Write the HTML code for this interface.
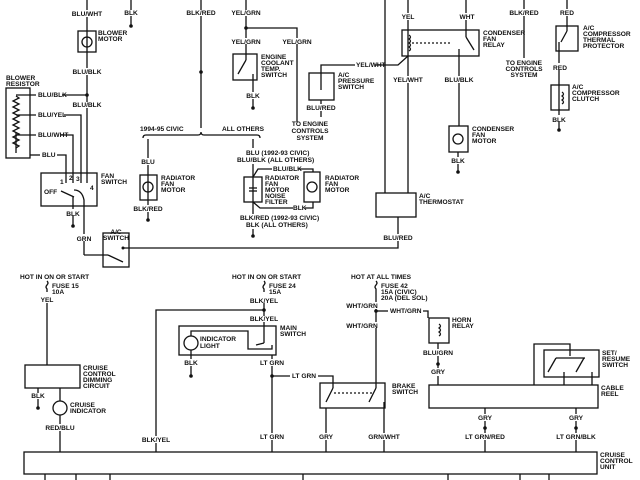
<!DOCTYPE html>
<html><head><meta charset="utf-8"><style>
html,body{margin:0;padding:0;background:#fff}
svg{display:block}
text{font-family:"Liberation Sans",sans-serif;font-size:6.6px;fill:#111;font-weight:bold}
.m{text-anchor:middle}
</style></head><body>
<svg width="640" height="480" viewBox="0 0 640 480" xmlns="http://www.w3.org/2000/svg">
<g stroke="#111" stroke-width="1.3" fill="none">
<!-- top left -->
<line x1="87" y1="0" x2="87" y2="10"/><line x1="87" y1="17" x2="87" y2="68"/><line x1="87" y1="75" x2="87" y2="102"/><line x1="87" y1="108" x2="87" y2="183"/>
<rect x="78" y="31" width="18" height="21"/><circle cx="87" cy="42" r="5"/>
<line x1="131" y1="0" x2="131" y2="10"/><line x1="131" y1="16" x2="131" y2="26"/>
<line x1="201" y1="0" x2="201" y2="10"/><line x1="201" y1="16" x2="201" y2="128"/>
<line x1="246" y1="0" x2="246" y2="10"/><line x1="246" y1="16" x2="246" y2="38"/><line x1="246" y1="44" x2="246" y2="60"/>
<polyline points="246,28 297,28 297,38"/><line x1="297" y1="44" x2="297" y2="122"/>
<rect x="233" y="54" width="24" height="26"/><line x1="246" y1="60" x2="238" y2="74"/><line x1="253" y1="74" x2="253" y2="92"/><line x1="253" y1="99" x2="253" y2="108"/>
<!-- blower resistor -->
<rect x="6" y="88" width="24" height="70"/>
<path d="M16 96 l3 2 -6 3 6 3 -6 3 6 3 -6 3 6 3 -6 3 6 3 -6 3 6 3 -6 3 6 3 -6 3 6 3 -6 3 6 3 -3 2"/>
<path d="M16 133 v20"/>
<line x1="16" y1="95" x2="36" y2="95"/><line x1="62" y1="95" x2="87" y2="95"/>
<line x1="16" y1="115" x2="36" y2="115"/><polyline points="64,115 81,115 81,183"/>
<line x1="16" y1="135" x2="36" y2="135"/><polyline points="61,135 73,135 73,183"/>
<polyline points="30,155 40,155"/><polyline points="57,155 66,155 66,183"/>
<rect x="41" y="173" width="56" height="33"/>
<line x1="61" y1="191" x2="74" y2="197"/><path d="M74 190 q8 0 10 10 v6"/>
<line x1="73" y1="197" x2="73" y2="209"/><line x1="73" y1="216" x2="73" y2="226"/>
<line x1="84" y1="206" x2="84" y2="234"/><line x1="84" y1="241" x2="84" y2="255"/>
<polyline points="84,255 108,255"/>
<rect x="103" y="233" width="26" height="34"/><line x1="108" y1="255" x2="123" y2="262"/>
<polyline points="123,248 398,248 398,241"/><line x1="398" y1="234" x2="398" y2="217"/>
<!-- brace -->
<path d="M143 138 q0 -3 3 -3 h52 q3 0 3 -3 q0 3 3 3 h53 q3 0 3 3"/>
<line x1="148" y1="139" x2="148" y2="158"/><line x1="148" y1="165" x2="148" y2="205"/><line x1="148" y1="212" x2="148" y2="220"/>
<rect x="140" y="175" width="17" height="25"/><circle cx="148" cy="187" r="5"/>
<line x1="253" y1="139" x2="253" y2="148"/><line x1="253" y1="164" x2="253" y2="214"/><line x1="253" y1="229" x2="253" y2="236"/>
<rect x="244" y="177" width="18" height="25"/><line x1="249" y1="188" x2="257" y2="188"/><line x1="249" y1="191" x2="257" y2="191"/>
<polyline points="253,177 258,169 272,169"/><polyline points="298,169 313,169 313,172"/>
<rect x="304" y="172" width="16" height="30"/><circle cx="312" cy="187" r="5"/>
<polyline points="253,202 260,208 293,208"/><polyline points="305,208 313,208 313,202"/>
<!-- A/C pressure -->
<rect x="309" y="73" width="25" height="27"/><polyline points="321,90 321,65 355,65"/><polyline points="375,65 398,65 408,56"/><line x1="321" y1="100" x2="321" y2="104"/><line x1="321" y1="111" x2="321" y2="117"/>
<line x1="385" y1="0" x2="385" y2="193"/><line x1="408" y1="0" x2="408" y2="13"/><line x1="408" y1="20" x2="408" y2="76"/><line x1="408" y1="83" x2="408" y2="193"/>
<rect x="376" y="193" width="40" height="24"/>
<!-- relay -->
<rect x="402" y="30" width="77" height="26"/>
<path d="M409 35 q3 2 0 4 q3 2 0 4 q3 2 0 4 q3 2 0 4"/>
<line x1="412" y1="43" x2="452" y2="43" stroke-dasharray="2,2"/>
<line x1="466" y1="0" x2="466" y2="13"/><line x1="466" y1="20" x2="466" y2="37"/><line x1="466" y1="37" x2="474" y2="50"/>
<line x1="459" y1="49" x2="459" y2="76"/><line x1="459" y1="83" x2="459" y2="126"/>
<rect x="449" y="126" width="19" height="26"/><circle cx="458" cy="139" r="5"/><line x1="458" y1="152" x2="458" y2="157"/><line x1="458" y1="164" x2="458" y2="172"/>
<line x1="524" y1="0" x2="524" y2="9"/><line x1="524" y1="16" x2="524" y2="58"/>
<line x1="567" y1="0" x2="567" y2="9"/><line x1="567" y1="16" x2="567" y2="31"/>
<rect x="556" y="26" width="22" height="25"/><line x1="567" y1="31" x2="561" y2="42"/><line x1="559" y1="42" x2="559" y2="63"/><line x1="559" y1="70" x2="559" y2="115"/><line x1="559" y1="122" x2="559" y2="130"/>
<rect x="551" y="85" width="18" height="25"/><path d="M562 92 q3 2 0 4 q3 2 0 4 q3 2 0 4"/>
<!-- bottom left -->
<path d="M47 281 q2 2 0 4 q-2 2 0 4 v3"/><line x1="47" y1="303" x2="47" y2="365"/>
<rect x="25" y="365" width="55" height="23"/>
<line x1="38" y1="388" x2="38" y2="393"/><line x1="38" y1="399" x2="38" y2="408"/>
<line x1="60" y1="388" x2="60" y2="401"/><circle cx="60" cy="408" r="7"/><line x1="60" y1="415" x2="60" y2="424"/><line x1="60" y1="431" x2="60" y2="452"/>
<rect x="24" y="452" width="573" height="22"/>
<line x1="45" y1="474" x2="45" y2="480"/><line x1="76" y1="474" x2="76" y2="480"/><line x1="110" y1="474" x2="110" y2="480"/><line x1="303" y1="474" x2="303" y2="480"/><line x1="448" y1="474" x2="448" y2="480"/><line x1="520" y1="474" x2="520" y2="480"/><line x1="549" y1="474" x2="549" y2="480"/>
<path d="M264 281 q2 2 0 4 q-2 2 0 4 v3"/><line x1="264" y1="303" x2="264" y2="316"/><line x1="264" y1="322" x2="264" y2="343"/>
<polyline points="264,310 156,310 156,436"/><line x1="156" y1="443" x2="156" y2="452"/>
<rect x="179" y="326" width="97" height="29"/>
<polyline points="191,336 191,331 248,331 248,349 272,349 272,345"/>
<circle cx="191" cy="343" r="7"/><line x1="264" y1="343" x2="256" y2="345"/>
<line x1="191" y1="350" x2="191" y2="359"/><line x1="191" y1="366" x2="191" y2="376"/>
<line x1="272" y1="355" x2="272" y2="359"/><line x1="272" y1="366" x2="272" y2="433"/><line x1="272" y1="440" x2="272" y2="452"/>
<line x1="272" y1="376" x2="290" y2="376"/><polyline points="318,376 333,376 333,388"/>
<rect x="320" y="383" width="65" height="25"/><line x1="333" y1="388" x2="326" y2="402"/><line x1="376" y1="388" x2="369" y2="402"/>
<line x1="334" y1="393" x2="374" y2="393" stroke-dasharray="2,2"/>
<line x1="326" y1="408" x2="326" y2="433"/><line x1="326" y1="440" x2="326" y2="452"/>
<line x1="384" y1="402" x2="384" y2="433"/><line x1="384" y1="440" x2="384" y2="452"/>
<path d="M376 281 q2 2 0 4 q-2 2 0 4 v13"/><line x1="376" y1="309" x2="376" y2="322"/><line x1="376" y1="328" x2="376" y2="388"/>
<line x1="376" y1="311" x2="388" y2="311"/><polyline points="423,311 428,311 428,318"/>
<rect x="429" y="318" width="20" height="25"/><path d="M439 324 q3 2 0 4 q3 2 0 4 q3 2 0 4"/>
<line x1="438" y1="343" x2="438" y2="349"/><line x1="438" y1="356" x2="438" y2="368"/><line x1="438" y1="376" x2="438" y2="385"/>
<rect x="429" y="385" width="169" height="23"/>
<polyline points="534,385 534,344 570,344 570,356"/>
<rect x="544" y="350" width="55" height="27"/>
<line x1="556" y1="358" x2="585" y2="358"/><line x1="556" y1="358" x2="548" y2="372"/><line x1="584" y1="358" x2="576" y2="372"/>
<line x1="564" y1="372" x2="564" y2="385"/><line x1="592" y1="372" x2="592" y2="385"/>
<line x1="485" y1="408" x2="485" y2="414"/><line x1="485" y1="421" x2="485" y2="433"/><line x1="485" y1="440" x2="485" y2="452"/>
<line x1="576" y1="408" x2="576" y2="414"/><line x1="576" y1="421" x2="576" y2="433"/><line x1="576" y1="440" x2="576" y2="452"/>
</g>
<g fill="#111">
<circle cx="131" cy="26" r="1.8"/><circle cx="201" cy="72" r="1.8"/><circle cx="246" cy="28" r="1.8"/><circle cx="253" cy="108" r="1.8"/><circle cx="87" cy="95" r="1.8"/>
<circle cx="73" cy="226" r="1.8"/><circle cx="148" cy="220" r="1.8"/><circle cx="253" cy="236" r="1.8"/><circle cx="458" cy="172" r="1.8"/><circle cx="559" cy="130" r="1.8"/>
<circle cx="38" cy="408" r="1.8"/><circle cx="191" cy="376" r="1.8"/><circle cx="264" cy="310" r="1.8"/><circle cx="272" cy="376" r="1.8"/><circle cx="376" cy="311" r="1.8"/>
<circle cx="438" cy="364" r="1.8"/><circle cx="485" cy="428" r="1.8"/><circle cx="576" cy="428" r="1.8"/><circle cx="123" cy="248" r="1.5"/>
</g>
<text x="87" y="16" class="m">BLU/WHT</text><text x="131" y="15" class="m">BLK</text><text x="201" y="15" class="m">BLK/RED</text><text x="246" y="15" class="m">YEL/GRN</text>
<text x="98" y="35">BLOWER</text><text x="98" y="41">MOTOR</text>
<text x="87" y="74" class="m">BLU/BLK</text><text x="87" y="107" class="m">BLU/BLK</text>
<text x="246" y="44" class="m">YEL/GRN</text><text x="297" y="44" class="m">YEL/GRN</text>
<text x="261" y="59">ENGINE</text><text x="261" y="65">COOLANT</text><text x="261" y="71">TEMP.</text><text x="261" y="77">SWITCH</text>
<text x="253" y="98" class="m">BLK</text>
<text x="6" y="80">BLOWER</text><text x="6" y="86">RESISTOR</text>
<text x="38" y="97">BLU/BLK</text><text x="38" y="117">BLU/YEL</text><text x="38" y="137">BLU/WHT</text><text x="42" y="157">BLU</text>
<text x="60" y="184">1</text><text x="69" y="180">2</text><text x="76" y="181">3</text><text x="90" y="190">4</text><text x="44" y="194">OFF</text>
<text x="101" y="178">FAN</text><text x="101" y="184">SWITCH</text><text x="73" y="216" class="m">BLK</text>
<text x="84" y="241" class="m">GRN</text><text x="116" y="234" class="m">A/C</text><text x="116" y="240" class="m">SWITCH</text>
<text x="140" y="131">1994-95 CIVIC</text><text x="222" y="131">ALL OTHERS</text>
<text x="148" y="164" class="m">BLU</text><text x="161" y="180">RADIATOR</text><text x="161" y="186">FAN</text><text x="161" y="192">MOTOR</text><text x="148" y="211" class="m">BLK/RED</text>
<text x="246" y="155">BLU (1992-93 CIVIC)</text><text x="237" y="162">BLU/BLK  (ALL OTHERS)</text><text x="273" y="171">BLU/BLK</text>
<text x="265" y="180">RADIATOR</text><text x="265" y="186">FAN</text><text x="265" y="192">MOTOR</text><text x="265" y="198">NOISE</text><text x="265" y="204">FILTER</text>
<text x="325" y="180">RADIATOR</text><text x="325" y="186">FAN</text><text x="325" y="192">MOTOR</text><text x="293" y="210">BLK</text>
<text x="240" y="220">BLK/RED  (1992-93 CIVIC)</text><text x="246" y="227">BLK (ALL OTHERS)</text>
<text x="338" y="77">A/C</text><text x="338" y="83">PRESSURE</text><text x="338" y="89">SWITCH</text><text x="321" y="110" class="m">BLU/RED</text>
<text x="310" y="126" class="m">TO ENGINE</text><text x="310" y="133" class="m">CONTROLS</text><text x="310" y="140" class="m">SYSTEM</text>
<text x="356" y="67">YEL/WHT</text><text x="408" y="82" class="m">YEL/WHT</text>
<text x="408" y="19" class="m">YEL</text><text x="467" y="19" class="m">WHT</text><text x="524" y="15" class="m">BLK/RED</text><text x="567" y="15" class="m">RED</text>
<text x="483" y="35">CONDENSER</text><text x="483" y="41">FAN</text><text x="483" y="47">RELAY</text>
<text x="524" y="65" class="m">TO ENGINE</text><text x="524" y="71" class="m">CONTROLS</text><text x="524" y="77" class="m">SYSTEM</text>
<text x="459" y="82" class="m">BLU/BLK</text><text x="472" y="131">CONDENSER</text><text x="472" y="137">FAN</text><text x="472" y="143">MOTOR</text><text x="458" y="163" class="m">BLK</text>
<text x="583" y="30">A/C</text><text x="583" y="36">COMPRESSOR</text><text x="583" y="42">THERMAL</text><text x="583" y="48">PROTECTOR</text>
<text x="560" y="70" class="m">RED</text><text x="572" y="89">A/C</text><text x="572" y="95">COMPRESSOR</text><text x="572" y="101">CLUTCH</text><text x="559" y="122" class="m">BLK</text>
<text x="419" y="198">A/C</text><text x="419" y="204">THERMOSTAT</text><text x="398" y="240" class="m">BLU/RED</text>
<text x="20" y="279">HOT IN ON OR START</text><text x="52" y="288">FUSE 15</text><text x="52" y="294">10A</text><text x="47" y="302" class="m">YEL</text>
<text x="83" y="370">CRUISE</text><text x="83" y="376">CONTROL</text><text x="83" y="382">DIMMING</text><text x="83" y="388">CIRCUIT</text>
<text x="38" y="398" class="m">BLK</text><text x="70" y="407">CRUISE</text><text x="70" y="413">INDICATOR</text><text x="60" y="430" class="m">RED/BLU</text>
<text x="232" y="279">HOT IN ON OR START</text><text x="269" y="288">FUSE 24</text><text x="269" y="294">15A</text>
<text x="264" y="303" class="m">BLK/YEL</text><text x="264" y="321" class="m">BLK/YEL</text>
<text x="200" y="341">INDICATOR</text><text x="200" y="348">LIGHT</text><text x="280" y="330">MAIN</text><text x="280" y="336">SWITCH</text>
<text x="191" y="365" class="m">BLK</text><text x="272" y="365" class="m">LT GRN</text><text x="292" y="378">LT GRN</text>
<text x="156" y="442" class="m">BLK/YEL</text><text x="272" y="439" class="m">LT GRN</text>
<text x="351" y="279">HOT AT ALL TIMES</text><text x="381" y="288">FUSE 42</text><text x="381" y="294">15A (CIVIC)</text><text x="381" y="300">20A (DEL SOL)</text>
<text x="362" y="308" class="m">WHT/GRN</text><text x="390" y="313">WHT/GRN</text><text x="362" y="328" class="m">WHT/GRN</text>
<text x="392" y="388">BRAKE</text><text x="392" y="394">SWITCH</text>
<text x="326" y="439" class="m">GRY</text><text x="384" y="439" class="m">GRN/WHT</text>
<text x="452" y="322">HORN</text><text x="452" y="328">RELAY</text><text x="438" y="355" class="m">BLU/GRN</text><text x="438" y="374" class="m">GRY</text>
<text x="602" y="355">SET/</text><text x="602" y="361">RESUME</text><text x="602" y="367">SWITCH</text>
<text x="601" y="390">CABLE</text><text x="601" y="396">REEL</text>
<text x="485" y="420" class="m">GRY</text><text x="485" y="439" class="m">LT GRN/RED</text><text x="576" y="420" class="m">GRY</text><text x="576" y="439" class="m">LT GRN/BLK</text>
<text x="600" y="457">CRUISE</text><text x="600" y="463">CONTROL</text><text x="600" y="469">UNIT</text>
</svg>
</body></html>
